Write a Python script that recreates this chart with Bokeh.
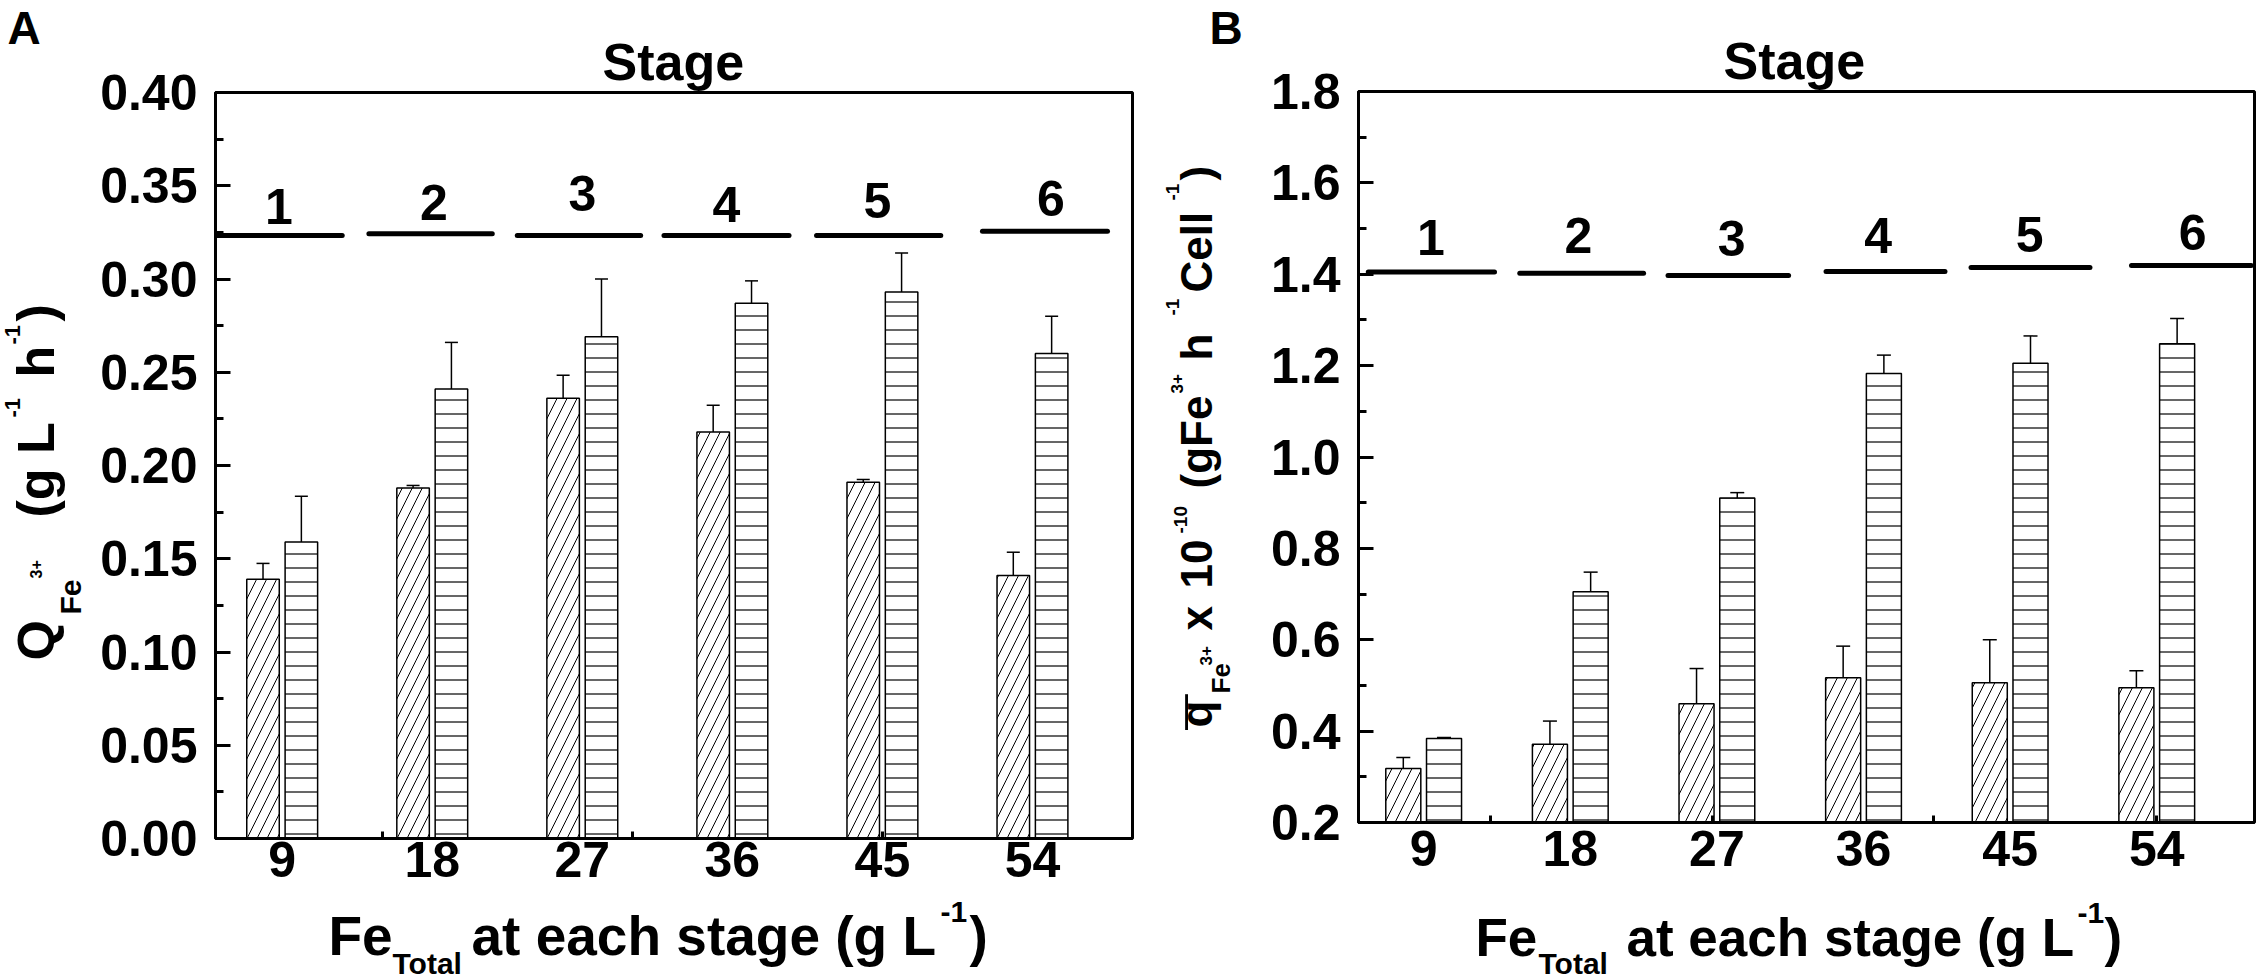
import math
from bokeh.plotting import figure
from bokeh.models import ColumnDataSource, FixedTicker, Whisker, TeeHead, Range1d
from bokeh.layouts import row
from bokeh.embed import file_html
from bokeh.resources import INLINE
from bokeh.core.properties import value

FONT = "Liberation Sans"
FIX = 0.30  # empirical baseline correction (em)

# ---------------- data ----------------
fe_total = [9, 18, 27, 36, 45, 54]
fe_total_labels = ["9", "18", "27", "36", "45", "54"]
stage_names = ["1", "2", "3", "4", "5", "6"]

# Panel A : volumetric Fe3+ productivity Q (g L-1 h-1)
a_hatched = [0.139, 0.188, 0.236, 0.218, 0.191, 0.141]
a_hatched_err = [0.0085, 0.0013, 0.0124, 0.0143, 0.0015, 0.0125]
a_lined = [0.159, 0.241, 0.269, 0.287, 0.293, 0.260]
a_lined_err = [0.0245, 0.025, 0.031, 0.012, 0.021, 0.020]
a_yticks = [0.0, 0.05, 0.10, 0.15, 0.20, 0.25, 0.30, 0.35, 0.40]
a_ytick_labels = ["0.00", "0.05", "0.10", "0.15", "0.20", "0.25", "0.30", "0.35", "0.40"]
a_yminor = [0.025, 0.075, 0.125, 0.175, 0.225, 0.275, 0.325, 0.375]
a_xminor = [15, 30, 45]
a_stage_y = [0.3233, 0.3242, 0.3233, 0.3233, 0.3233, 0.3256]
a_stage_x0 = [5.1, 14.2, 23.1, 31.9, 41.05, 51.0]
a_stage_x1 = [12.6, 21.6, 30.5, 39.4, 48.5, 58.5]
a_stage_label_x = [8.8, 18.1, 27.0, 35.65, 44.7, 55.1]
a_stage_label_y = [0.331, 0.333, 0.338, 0.332, 0.334, 0.335]

# Panel B : specific Fe3+ productivity q (x 1e-10 gFe3+ h-1 cell-1)
b_hatched = [0.318, 0.371, 0.460, 0.517, 0.506, 0.495]
b_hatched_err = [0.024, 0.051, 0.077, 0.069, 0.094, 0.037]
b_lined = [0.384, 0.705, 0.910, 1.183, 1.205, 1.248]
b_lined_err = [0.002, 0.043, 0.012, 0.040, 0.060, 0.055]
b_yticks = [0.2, 0.4, 0.6, 0.8, 1.0, 1.2, 1.4, 1.6, 1.8]
b_ytick_labels = ["0.2", "0.4", "0.6", "0.8", "1.0", "1.2", "1.4", "1.6", "1.8"]
b_yminor = [0.3, 0.5, 0.7, 0.9, 1.1, 1.3, 1.5, 1.7]
b_xminor = [13.1, 26.7, 40.3, 54.0]
b_stage_y = [1.405, 1.402, 1.397, 1.406, 1.415, 1.419]
b_stage_x0 = [5.6, 14.9, 24.0, 33.7, 42.6, 52.45]
b_stage_x1 = [13.35, 22.5, 31.4, 41.0, 49.9, 59.8]
b_stage_label_x = [9.45, 18.5, 27.9, 36.9, 46.2, 56.2]
b_stage_label_y = [1.448, 1.452, 1.445, 1.452, 1.454, 1.459]

H = 979
X0, X1 = 5, 60


class Frame:
    """page-pixel box of a plot frame, used to place free text via the plot's own scales"""
    def __init__(self, left, right, top, bottom, y0, y1):
        self.left, self.right, self.top, self.bottom = left, right, top, bottom
        self.y0, self.y1 = y0, y1

    def to_data(self, X, Y):
        xd = X0 + (X - self.left) * (X1 - X0) / (self.right - self.left)
        yd = self.y0 + (self.bottom - Y) * (self.y1 - self.y0) / (self.bottom - self.top)
        return xd, yd


def make_fig(fig_left, fig_width, fr):
    p = figure(width=fig_width, height=H, x_range=Range1d(X0, X1), y_range=Range1d(fr.y0, fr.y1),
               output_backend="svg", toolbar_location=None, tools="", title=None,
               min_border_left=fr.left - fig_left, min_border_right=fig_left + fig_width - fr.right,
               min_border_top=fr.top, min_border_bottom=H - fr.bottom)
    p.frame_align = False
    p.background_fill_color = "white"
    p.border_fill_color = "white"
    p.xgrid.visible = False
    p.ygrid.visible = False
    p.outline_line_color = "black"
    p.outline_line_width = 3
    for ax in (p.xaxis[0], p.yaxis[0]):
        ax.axis_line_width = 3
        ax.axis_line_color = "black"
        ax.major_tick_line_width = 3
        ax.minor_tick_line_width = 3
        ax.major_tick_line_color = "black"
        ax.minor_tick_line_color = "black"
        ax.major_label_text_font = FONT
        ax.major_label_text_font_style = "bold"
        ax.major_label_text_font_size = "50px"
        ax.major_label_text_color = "black"
    return p


def setup_axes(p, yticks, ylabels, yminor, xminor, ystand, xstand):
    p.yaxis.ticker = FixedTicker(ticks=yticks, minor_ticks=yminor)
    p.yaxis.major_label_overrides = dict(zip(yticks, ylabels))
    p.yaxis.major_tick_in = 15
    p.yaxis.major_tick_out = 0
    p.yaxis.minor_tick_in = 8
    p.yaxis.minor_tick_out = 0
    p.yaxis.major_label_standoff = ystand
    p.xaxis.ticker = FixedTicker(ticks=fe_total, minor_ticks=xminor)
    p.xaxis.major_label_overrides = dict(zip(fe_total, fe_total_labels))
    p.xaxis.major_tick_in = 0
    p.xaxis.major_tick_out = 0
    p.xaxis.major_tick_line_color = None
    p.xaxis.minor_tick_in = 7
    p.xaxis.minor_tick_out = 0
    p.xaxis.major_label_standoff = xstand


def draw_bars(p, hatched, hatched_err, lined, lined_err, off, bw, head):
    xh = [v - off for v in fe_total]
    xl = [v + off for v in fe_total]
    p.vbar(x=xh, top=hatched, bottom=0, width=bw, fill_color="white", line_color="black",
           line_width=1.5, hatch_pattern="right_diagonal_line", hatch_color="black",
           hatch_weight=1, hatch_scale=20)
    p.vbar(x=xl, top=lined, bottom=0, width=bw, fill_color="white", line_color="black",
           line_width=1.5, hatch_pattern="horizontal_line", hatch_color="black",
           hatch_weight=1.2, hatch_scale=14)
    for xs, vals, errs in ((xh, hatched, hatched_err), (xl, lined, lined_err)):
        src = ColumnDataSource(dict(x=xs,
                                    upper=[v + e for v, e in zip(vals, errs)],
                                    lower=[v - e for v, e in zip(vals, errs)]))
        p.add_layout(Whisker(source=src, base="x", upper="upper", lower="lower",
                             line_color="black", line_width=1.5,
                             upper_head=TeeHead(size=head, line_width=1.5, line_color="black"),
                             lower_head=TeeHead(size=head, line_width=1.5, line_color="black")))


def draw_stages(p, x0, x1, y, lx, ly):
    p.segment(x0=x0, y0=y, x1=x1, y1=y, line_color="black", line_width=5, line_cap="round")
    p.text(x=lx, y=ly, text=stage_names, text_font=value(FONT), text_font_size="50px",
           text_font_style="bold", text_align="center", text_baseline="alphabetic",
           y_offset=-FIX * 50, text_color="black")


def put_text(p, fr, pieces, angle=0.0):
    # pieces: (text, size_px, X, Y) page-pixel anchor (baseline start) -> data coords of this plot
    for txt, size, X, Y in pieces:
        xd, yd = fr.to_data(X, Y)
        if angle == 0.0:
            xo, yo = 0.0, -FIX * size
        else:
            xo, yo = -FIX * size, 0.0
        p.text(x=[xd], y=[yd], text=[txt], angle=angle, x_offset=xo, y_offset=yo,
               text_font=value(FONT), text_font_size=f"{size}px", text_font_style="bold",
               text_color="black", text_align="left", text_baseline="alphabetic",
               level="annotation")


# ---------------- panel A ----------------
frA = Frame(215, 1132, 92, 838, 0.0, 0.40)
pA = make_fig(0, 1150, frA)
setup_axes(pA, a_yticks, a_ytick_labels, a_yminor, a_xminor, 18, 3)
draw_bars(pA, a_hatched, a_hatched_err, a_lined, a_lined_err, 1.15, 1.95, 13)
draw_stages(pA, a_stage_x0, a_stage_x1, a_stage_y, a_stage_label_x, a_stage_label_y)
put_text(pA, frA, [("A", 46, 7, 41), ("Stage", 52, 602, 77)])
put_text(pA, frA, [("Fe", 55, 328, 952), ("Total", 30, 392, 972),
                   ("at each stage (g L", 55, 471, 952), ("-1", 30, 940, 920),
                   (")", 55, 969, 952)])
put_text(pA, frA, [("Q", 52, 51, 660), ("Fe", 30, 79, 614), ("3+", 16, 40, 578),
                   ("(g L", 52, 51, 517), ("-1", 22, 19, 417), ("h", 52, 51, 377),
                   ("-1", 22, 19, 344), (")", 52, 51, 321)], angle=math.pi / 2)

# ---------------- panel B ----------------
frB = Frame(1358, 2254, 91, 822, 0.2, 1.8)
pB = make_fig(1150, 1110, frB)
setup_axes(pB, b_yticks, b_ytick_labels, b_yminor, b_xminor, 18, 8)
draw_bars(pB, b_hatched, b_hatched_err, b_lined, b_lined_err, 1.25, 2.15, 14)
draw_stages(pB, b_stage_x0, b_stage_x1, b_stage_y, b_stage_label_x, b_stage_label_y)
put_text(pB, frB, [("B", 46, 1209, 41), ("Stage", 52, 1723, 76)])
put_text(pB, frB, [("Fe", 53, 1475, 953), ("Total", 30, 1538, 972),
                   ("at each stage (g L", 53, 1626, 953), ("-1", 30, 2077, 921),
                   (")", 53, 2104, 953)])
put_text(pB, frB, [("q", 44, 1209, 727), ("\u00af", 63, 1229, 729),
                   ("Fe", 26, 1228, 693), ("3+", 17, 1211, 665),
                   ("x", 44, 1209, 630), ("10", 44, 1209, 588), ("-10", 19, 1186, 533),
                   ("(gFe", 44, 1209, 488), ("3+", 17, 1182, 393), ("h", 44, 1209, 360),
                   ("-1", 19, 1178, 315), ("Cell", 44, 1209, 292), ("-1", 19, 1178, 200),
                   (")", 44, 1209, 180)], angle=math.pi / 2)

layout = row(pA, pB)
open("out.html", "w").write(file_html(layout, INLINE))
